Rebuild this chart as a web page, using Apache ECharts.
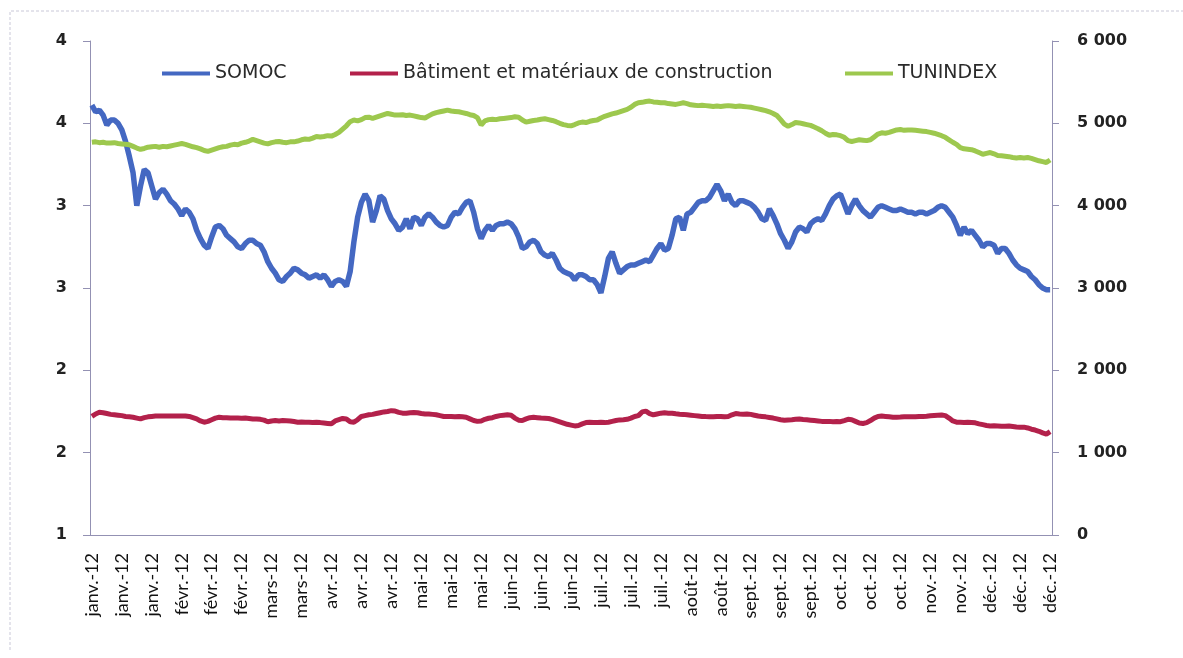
<!DOCTYPE html>
<html>
<head>
<meta charset="utf-8">
<title>SOMOC / Bâtiment et matériaux de construction / TUNINDEX</title>
<script src="https://cdn.jsdelivr.net/npm/echarts@6/dist/echarts.min.js"></script>
<style>
  html, body { margin: 0; padding: 0; background: #fff; }
  #chart { width: 1183px; height: 658px; }
</style>
</head>
<body>
<div id="chart"></div>
<script>
// one label every 8 trading days
const tickLabels = [
  'janv.-12', 'janv.-12', 'janv.-12', 'févr.-12', 'févr.-12', 'févr.-12',
  'mars-12', 'mars-12', 'avr.-12', 'avr.-12', 'avr.-12', 'mai-12', 'mai-12',
  'mai-12', 'juin-12', 'juin-12', 'juin-12', 'juil.-12', 'juil.-12', 'juil.-12',
  'août-12', 'août-12', 'sept.-12', 'sept.-12', 'sept.-12', 'oct.-12', 'oct.-12',
  'oct.-12', 'nov.-12', 'nov.-12', 'déc.-12', 'déc.-12', 'déc.-12'
]

// SOMOC (left axis)
const somoc = [
  3.61, 3.57, 3.58, 3.55, 3.49, 3.52, 3.52, 3.50, 3.46, 3.39,
  3.30, 3.20, 3.00, 3.12, 3.22, 3.20, 3.12, 3.04, 3.08, 3.10,
  3.07, 3.03, 3.01, 2.98, 2.94, 2.98, 2.96, 2.92, 2.85, 2.80,
  2.76, 2.74, 2.81, 2.87, 2.88, 2.86, 2.82, 2.80, 2.78, 2.75,
  2.74, 2.77, 2.79, 2.79, 2.77, 2.76, 2.72, 2.66, 2.62, 2.59,
  2.55, 2.54, 2.57, 2.59, 2.62, 2.61, 2.59, 2.58, 2.56, 2.57,
  2.58, 2.56, 2.58, 2.55, 2.51, 2.54, 2.55, 2.54, 2.51, 2.60,
  2.78, 2.93, 3.02, 3.07, 3.03, 2.90, 2.97, 3.06, 3.04, 2.97,
  2.92, 2.89, 2.85, 2.87, 2.92, 2.86, 2.93, 2.92, 2.88, 2.93,
  2.95, 2.93, 2.90, 2.88, 2.87, 2.88, 2.93, 2.96, 2.95, 2.99,
  3.02, 3.03, 2.96, 2.86, 2.80, 2.85, 2.88, 2.85, 2.88, 2.89,
  2.89, 2.90, 2.89, 2.86, 2.81, 2.74, 2.75, 2.78, 2.79, 2.77,
  2.72, 2.70, 2.69, 2.71, 2.67, 2.62, 2.60, 2.59, 2.58, 2.55,
  2.58, 2.58, 2.57, 2.55, 2.55, 2.52, 2.47, 2.57, 2.68, 2.72,
  2.65, 2.59, 2.61, 2.63, 2.64, 2.64, 2.65, 2.66, 2.67, 2.66,
  2.70, 2.74, 2.77, 2.73, 2.74, 2.82, 2.92, 2.93, 2.85, 2.95,
  2.96, 2.99, 3.02, 3.03, 3.03, 3.05, 3.09, 3.13, 3.09, 3.03,
  3.07, 3.02, 3.00, 3.03, 3.03, 3.02, 3.01, 2.99, 2.96, 2.92,
  2.91, 2.98, 2.94, 2.89, 2.83, 2.79, 2.74, 2.78, 2.84, 2.87,
  2.86, 2.84, 2.89, 2.91, 2.92, 2.91, 2.95, 3.00, 3.04, 3.06,
  3.07, 3.01, 2.95, 3.00, 3.04, 3.00, 2.97, 2.95, 2.93, 2.96,
  2.99, 3.00, 2.99, 2.98, 2.97, 2.97, 2.98, 2.97, 2.96, 2.96,
  2.95, 2.96, 2.96, 2.95, 2.96, 2.97, 2.99, 3.00, 2.99, 2.96,
  2.93, 2.88, 2.82, 2.87, 2.83, 2.85, 2.82, 2.79, 2.75, 2.77,
  2.77, 2.76, 2.71, 2.74, 2.74, 2.71, 2.67, 2.64, 2.62, 2.61,
  2.60, 2.57, 2.55, 2.52, 2.50, 2.49, 2.49
]

// Bâtiment et matériaux de construction (right axis)
const batiment = [
  1440, 1470, 1490, 1485, 1475, 1465, 1460, 1455, 1450, 1440,
  1435, 1430, 1420, 1410, 1425, 1435, 1440, 1445, 1445, 1445,
  1445, 1445, 1445, 1445, 1445, 1445, 1440, 1425, 1410, 1385,
  1370, 1380, 1400, 1420, 1430, 1425, 1425, 1420, 1420, 1420,
  1418, 1420, 1415, 1410, 1410, 1405, 1395, 1375, 1385, 1390,
  1385, 1390, 1388, 1385, 1378, 1370, 1372, 1370, 1368, 1365,
  1368, 1365, 1360, 1355, 1350, 1385, 1400, 1415, 1410, 1375,
  1370, 1400, 1440, 1450, 1460, 1465, 1475, 1485, 1495, 1500,
  1510, 1505, 1490, 1480, 1478, 1485, 1488, 1485, 1475, 1470,
  1470, 1465, 1460, 1450, 1440, 1438, 1440, 1435, 1440, 1435,
  1430, 1410, 1390, 1380, 1385, 1405, 1418, 1425, 1440, 1450,
  1455, 1460, 1455, 1420, 1395, 1390, 1410, 1425, 1430, 1425,
  1420, 1418, 1415, 1405, 1390, 1375, 1360, 1345, 1335, 1325,
  1330, 1350, 1365, 1368, 1365, 1365, 1368, 1365, 1370, 1380,
  1390, 1398, 1400, 1405, 1420, 1440, 1450, 1495, 1505, 1475,
  1460, 1470, 1480, 1485, 1480, 1478, 1472, 1468, 1465, 1460,
  1455, 1450, 1445, 1440, 1438, 1437, 1435, 1438, 1440, 1435,
  1440, 1460, 1475, 1470, 1468, 1470, 1465, 1455, 1445, 1440,
  1435, 1428, 1420, 1410, 1400, 1395, 1398, 1400, 1405, 1408,
  1403, 1400, 1395, 1390, 1385, 1380, 1378, 1380, 1375, 1378,
  1376, 1390, 1405, 1400, 1380, 1360, 1355, 1365, 1390, 1420,
  1440, 1445, 1440, 1435, 1430, 1430, 1432, 1435, 1437, 1435,
  1437, 1440, 1438, 1442, 1448, 1452, 1455, 1458, 1450, 1420,
  1385, 1370, 1368, 1365, 1368, 1366, 1362, 1350, 1340, 1330,
  1325, 1328, 1325, 1322, 1320, 1324, 1318, 1312, 1308, 1310,
  1300, 1285, 1275, 1260, 1240, 1225, 1255
]

// TUNINDEX (right axis)
const tunindex = [
  4770, 4775, 4765, 4770, 4760, 4760, 4765, 4755, 4750, 4745,
  4740, 4720, 4700, 4685, 4695, 4710, 4715, 4720, 4710, 4720,
  4715, 4725, 4735, 4745, 4755, 4745, 4730, 4715, 4705, 4690,
  4670, 4660, 4675, 4690, 4705, 4715, 4720, 4735, 4745, 4740,
  4760, 4770, 4785, 4805, 4790, 4775, 4760, 4750, 4765, 4775,
  4780, 4770, 4765, 4775, 4775, 4785, 4800, 4810, 4805, 4820,
  4840, 4835, 4840, 4850, 4845, 4865, 4890, 4930, 4970, 5020,
  5040, 5030, 5045, 5070, 5075, 5060, 5075, 5090, 5105, 5120,
  5110, 5100, 5100, 5105, 5095, 5100, 5090, 5080, 5070, 5065,
  5090, 5115, 5130, 5140, 5150, 5160, 5150, 5145, 5140, 5130,
  5120, 5105, 5095, 5070, 4980, 5030, 5045, 5050, 5045, 5055,
  5060, 5065, 5070, 5080, 5075, 5040, 5015, 5025, 5035, 5040,
  5050, 5055, 5045, 5035, 5020, 5000, 4985, 4975, 4970, 4985,
  5005, 5015, 5010, 5025, 5035, 5040, 5065, 5085, 5100, 5115,
  5125, 5140, 5155, 5170, 5195, 5230, 5250, 5255, 5265, 5270,
  5260, 5255, 5250, 5250, 5240, 5235, 5230, 5240, 5250, 5240,
  5225, 5220, 5215, 5220, 5215, 5210, 5205, 5210, 5205, 5210,
  5215, 5210, 5205, 5210, 5205, 5200, 5195, 5185, 5175, 5165,
  5155, 5140, 5120, 5095, 5045, 4990, 4965, 4985, 5010, 5005,
  4995, 4985, 4975, 4955, 4935, 4910, 4880, 4855, 4865, 4860,
  4850, 4830, 4790, 4780, 4790, 4800, 4795, 4790, 4800, 4835,
  4870, 4885, 4880, 4890, 4905, 4920, 4925, 4915, 4920, 4920,
  4915, 4910, 4905, 4900, 4890, 4880, 4865, 4850, 4830, 4800,
  4770, 4745, 4705, 4690, 4685, 4680, 4665, 4645, 4625, 4635,
  4645, 4630, 4610, 4605, 4600, 4595, 4585, 4580, 4585, 4580,
  4585, 4575, 4560, 4545, 4535, 4525, 4555
]

const days = somoc.map((v, i) => String(i))
const axisColor = '#9391b3'
const legendFont = { fontFamily: 'DejaVu Sans', fontSize: 19, color: '#2a2a2a' }

function spaced(v) {
  return String(v).replace(/\B(?=(\d{3})+(?!\d))/g, ' ')
}

const chart = echarts.init(document.getElementById('chart'))
chart.setOption({
  animation: false,
  backgroundColor: '#fff',
  graphic: [{
    type: 'polyline',
    shape: { points: [[10, 650], [10, 11], [1183, 11]] },
    style: { stroke: '#c9c8d8', lineWidth: 1, lineDash: [3, 2], fill: null }
  }],
  legend: [
    { data: ['SOMOC'], left: 157, top: 59, icon: 'rect', itemWidth: 48, itemHeight: 4, textStyle: legendFont },
    { data: ['Bâtiment et matériaux de construction'], left: 345, top: 59, icon: 'rect', itemWidth: 48, itemHeight: 4, textStyle: legendFont },
    { data: ['TUNINDEX'], left: 840, top: 59, icon: 'rect', itemWidth: 48, itemHeight: 4, textStyle: legendFont }
  ],
  grid: { left: 90, right: 131, top: 41, bottom: 123 },
  xAxis: {
    type: 'category',
    data: days,
    boundaryGap: true,
    axisLine: { lineStyle: { color: axisColor, width: 1 } },
    axisTick: { interval: 0, length: 5, lineStyle: { color: '#8886a6' } },
    axisLabel: {
      interval: 7,
      rotate: 90,
      margin: 18,
      fontFamily: 'Lato',
      fontSize: 18,
      color: '#111',
      formatter: (v, i) => tickLabels[Math.round(i / 8)]
    }
  },
  yAxis: [
    {
      type: 'value',
      min: 1,
      max: 4,
      interval: 0.5,
      splitLine: { show: false },
      axisLine: { show: true, lineStyle: { color: axisColor } },
      axisTick: { show: true, length: 7, lineStyle: { color: axisColor } },
      axisLabel: {
        margin: 23,
        fontFamily: 'DejaVu Sans',
        fontWeight: 'bold',
        fontSize: 16,
        color: '#222',
        formatter: v => String(Math.round(v))
      }
    },
    {
      type: 'value',
      min: 0,
      max: 6000,
      interval: 1000,
      splitLine: { show: false },
      axisLine: { show: true, lineStyle: { color: axisColor } },
      axisTick: { show: true, length: 7, lineStyle: { color: axisColor } },
      axisLabel: {
        margin: 25,
        fontFamily: 'DejaVu Sans',
        fontWeight: 'bold',
        fontSize: 16,
        color: '#222',
        formatter: v => spaced(v)
      }
    }
  ],
  series: [
    {
      name: 'SOMOC',
      type: 'line',
      yAxisIndex: 0,
      data: somoc,
      showSymbol: false,
      color: '#4468c2',
      lineStyle: { width: 5.5, color: '#4468c2' }
    },
    {
      name: 'Bâtiment et matériaux de construction',
      type: 'line',
      yAxisIndex: 1,
      data: batiment,
      showSymbol: false,
      color: '#b3214b',
      lineStyle: { width: 5, color: '#b3214b' }
    },
    {
      name: 'TUNINDEX',
      type: 'line',
      yAxisIndex: 1,
      data: tunindex,
      showSymbol: false,
      color: '#9dc84e',
      lineStyle: { width: 5, color: '#9dc84e' }
    }
  ]
})
</script>
</body>
</html>
